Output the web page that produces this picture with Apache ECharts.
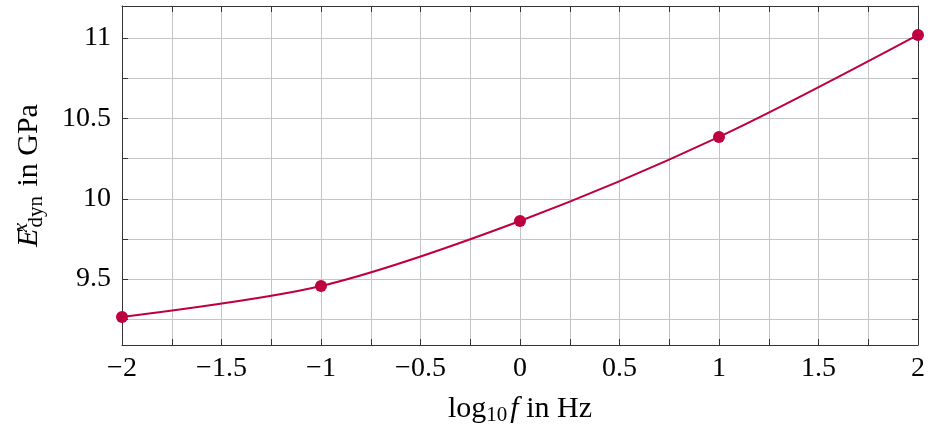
<!DOCTYPE html>
<html>
<head>
<meta charset="utf-8">
<script src="https://cdn.jsdelivr.net/npm/echarts@6/dist/echarts.min.js"></script>
<style>
  html, body { margin: 0; padding: 0; background: #fff; }
  #chart { width: 928px; height: 425px; }
</style>
</head>
<body>
<div id="chart"></div>
<script>
// data
var logFreq = [-2, -1, 0, 1, 2];
var modulus = [9.265, 9.457, 9.862, 10.385, 11.02];
var xTicks = [-2, -1.75, -1.5, -1.25, -1, -0.75, -0.5, -0.25, 0, 0.25, 0.5, 0.75, 1, 1.25, 1.5, 1.75, 2];
var xLabels = [-2, -1.5, -1, -0.5, 0, 0.5, 1, 1.5, 2];
var yTicks = [9.25, 9.5, 9.75, 10, 10.25, 10.5, 10.75, 11];
var yLabels = [9.5, 10, 10.5, 11];

var font = '"Liberation Serif", "DejaVu Serif", serif';
var ink = '#000';
var lineColor = '#bf0040';

function fmt(v) {
  return String(v).replace('-', '\u2212');
}

var pts = logFreq.map(function (x, i) { return [x, modulus[i]]; });

var frameTick = { show: true, inside: true, length: 6, lineStyle: { color: '#333', width: 1 } };

var chart = echarts.init(document.getElementById('chart'));
chart.setOption({
  animation: false,
  grid: { left: 122, right: 10, top: 6, bottom: 80, outerBoundsMode: 'none', containLabel: false },
  xAxis: [{
    type: 'value',
    min: -2, max: 2,
    axisLine: { show: true, onZero: false, lineStyle: { color: '#333', width: 1 } },
    axisTick: Object.assign({ customValues: xTicks }, frameTick),
    axisLabel: { customValues: xLabels, formatter: fmt, color: ink, fontFamily: font, fontSize: 28, margin: 10 },
    splitLine: { show: true, lineStyle: { color: '#c4c4c4', width: 1 } },
    name: '{t|log}{s|10}{i|f}{t| in Hz}',
    nameLocation: 'middle',
    nameGap: 47,
    nameTextStyle: {
      color: ink, fontFamily: font, fontSize: 30,
      rich: {
        t: { fontFamily: font, fontSize: 30, color: ink },
        s: { fontFamily: font, fontSize: 21, color: ink, padding: [13, 3, 0, 0] },
        i: { fontFamily: font, fontSize: 30, fontStyle: 'italic', color: ink }
      }
    }
  }, {
    type: 'value',
    position: 'top',
    min: -2, max: 2,
    axisLine: { show: true, onZero: false, lineStyle: { color: '#333', width: 1 } },
    axisTick: Object.assign({ customValues: xTicks }, frameTick),
    axisLabel: { show: false },
    splitLine: { show: false }
  }],
  yAxis: [{
    type: 'value',
    min: 9.09, max: 11.2,
    axisLine: { show: true, onZero: false, lineStyle: { color: '#333', width: 1 } },
    axisTick: Object.assign({ customValues: yTicks }, frameTick),
    axisLabel: { customValues: yLabels, formatter: fmt, color: ink, fontFamily: font, fontSize: 28, margin: 11 },
    splitLine: { show: true, lineStyle: { color: '#c4c4c4', width: 1 } },
    name: '{e|E}{p|x}{b|dyn}{t| in GPa}',
    nameLocation: 'middle',
    nameGap: 74,
    nameTextStyle: {
      color: ink, fontFamily: font, fontSize: 30,
      rich: {
        e: { fontFamily: font, fontSize: 30, fontStyle: 'italic', color: ink },
        p: { fontFamily: font, fontSize: 21, fontStyle: 'italic', color: ink, width: 0, padding: [0, 0, 16, 1] },
        b: { fontFamily: font, fontSize: 21, color: ink, padding: [13, 2, 0, 0] },
        t: { fontFamily: font, fontSize: 30, color: ink }
      }
    }
  }, {
    type: 'value',
    position: 'right',
    min: 9.09, max: 11.2,
    axisLine: { show: true, onZero: false, lineStyle: { color: '#333', width: 1 } },
    axisTick: Object.assign({ customValues: yTicks }, frameTick),
    axisLabel: { show: false },
    splitLine: { show: false }
  }],
  series: [{
    type: 'line',
    data: pts,
    smooth: 0.3,
    symbol: 'circle',
    symbolSize: 12,
    lineStyle: { color: lineColor, width: 2 },
    itemStyle: { color: lineColor }
  }]
});
</script>
</body>
</html>
